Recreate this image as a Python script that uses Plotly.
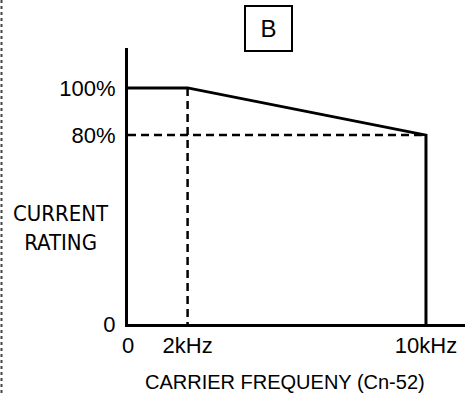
import plotly.graph_objects as go

# Derating curve: current rating vs. carrier frequency
freq_khz = [0, 2, 10]
rating_pct = [100, 100, 80]

x_tick_vals = [0, 2, 10]
x_tick_text = ["0", "2kHz", "10kHz"]
y_tick_vals = [0, 80, 100]
y_tick_text = ["0", "80%", "100%"]

FONT = "Liberation Sans, Arial, Helvetica, sans-serif"
NARROW = "DejaVu Sans Condensed, Liberation Sans Narrow, Arial Narrow, sans-serif"

fig = go.Figure()

# rated-current envelope: flat, sloping, then drop to zero at the max frequency
fig.add_trace(go.Scatter(
    x=freq_khz + [freq_khz[-1]],
    y=rating_pct + [0],
    mode="lines",
    line=dict(color="black", width=3),
    hoverinfo="skip",
))

# guide lines: 80% level and 2kHz corner
fig.add_trace(go.Scatter(
    x=[freq_khz[0], freq_khz[-1]],
    y=[rating_pct[-1], rating_pct[-1]],
    mode="lines",
    line=dict(color="black", width=2.5, dash="8px,5px"),
    hoverinfo="skip",
))
fig.add_trace(go.Scatter(
    x=[freq_khz[1], freq_khz[1]],
    y=[rating_pct[1], 0],
    mode="lines",
    line=dict(color="black", width=2.5, dash="8px,5px"),
    hoverinfo="skip",
))

L, T, B, W, H = 128, 48, 72, 465, 396
pw, ph = W - L, H - T - B

fig.update_layout(
    width=W, height=H,
    margin=dict(l=L, r=0, t=T, b=B),
    paper_bgcolor="white", plot_bgcolor="white",
    showlegend=False,
    font=dict(family=FONT, color="black", size=22),
    xaxis=dict(
        range=[0, 11.31], showgrid=False, zeroline=False,
        showline=True, linecolor="black", linewidth=3,
        tickvals=x_tick_vals, ticktext=x_tick_text, ticks="",
        tickfont=dict(size=22, family=FONT, color="black"),
    ),
    yaxis=dict(
        range=[0, 116.9], showgrid=False, zeroline=False,
        showline=True, linecolor="black", linewidth=3,
        tickvals=y_tick_vals, ticktext=y_tick_text, ticks="",
        ticklabelstandoff=5,
        tickfont=dict(size=22, family=FONT, color="black"),
    ),
    annotations=[
        dict(text="B", xref="paper", yref="paper",
             x=(268 - L) / pw, y=(324 - 29) / ph,
             xanchor="center", yanchor="middle", showarrow=False,
             font=dict(size=24, family=FONT, color="black"),
             bordercolor="black", borderwidth=2, borderpad=0,
             width=45, height=43),
        dict(text="CURRENT<br>RATING", xref="paper", yref="paper",
             x=(61 - L) / pw, y=(324 - 228) / ph,
             xanchor="center", yanchor="middle", showarrow=False,
             font=dict(size=22, family=NARROW, color="black")),
        dict(text="CARRIER FREQUENY (Cn-52)", xref="paper", yref="paper",
             x=(285 - L) / pw, y=(324 - 382) / ph,
             xanchor="center", yanchor="middle", showarrow=False,
             font=dict(size=20, family=FONT, color="black")),
    ],
    shapes=[
        # dotted page border on the left
        dict(type="line", xref="paper", yref="paper",
             x0=(1.5 - L) / pw, x1=(1.5 - L) / pw,
             y0=(324 - 0) / ph, y1=(324 - 396) / ph,
             line=dict(color="#444", width=2, dash="dot")),
    ],
)

fig.write_html("out.html")
